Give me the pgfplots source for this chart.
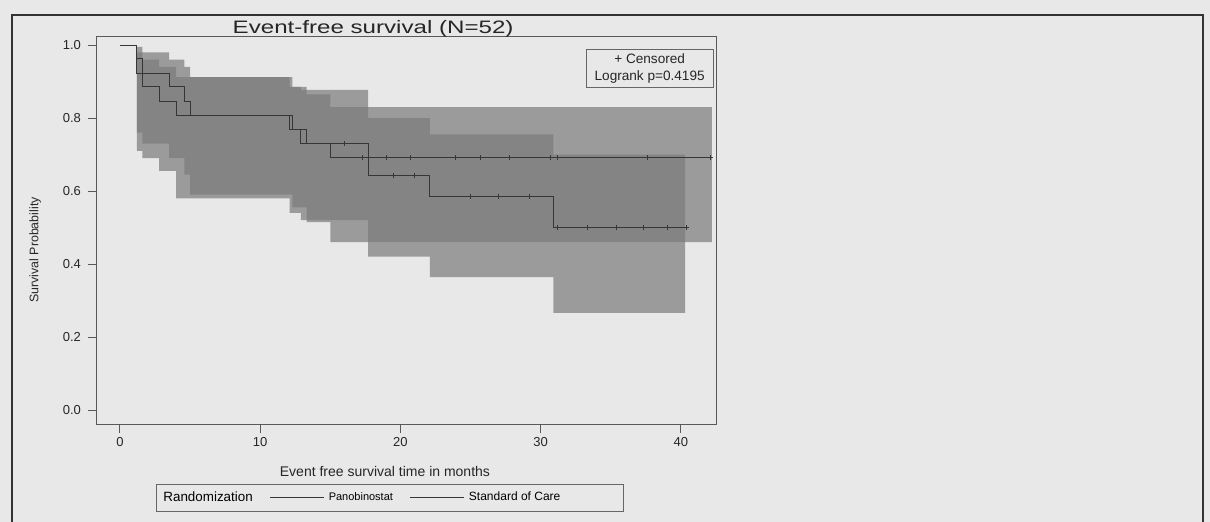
\documentclass[border=0pt]{standalone}
\usepackage{fontspec}
\setmainfont{Liberation Sans}
\newfontfamily\titlefont[FakeStretch=1.34]{Liberation Sans}
\usepackage{pgfplots}
\pgfplotsset{compat=1.18}
\definecolor{paper}{HTML}{E8E8E8}
\definecolor{band}{HTML}{7B7B7B}
\definecolor{curve}{HTML}{363636}
\begin{document}
\begin{tikzpicture}[x=1pt,y=1pt]
\fill[paper] (0,0) rectangle (605,261);
\draw[line width=1pt, black!80] (6,0) -- (6,253.5) -- (601.5,253.5) -- (601.5,0);
\begin{axis}[
  at={(48pt,48.5pt)}, anchor=south west,
  scale only axis, width=310pt, height=194pt,
  xmin=-1.71, xmax=42.5, ymin=-0.041, ymax=1.022,
  xtick={0,10,20,30,40}, ytick={0,0.2,0.4,0.6,0.8,1.0},
  tick pos=left, tick align=outside, major tick length=4pt,
  axis line style={draw=black!65, line width=0.5pt},
  every tick/.style={black!65, line width=0.5pt},
  /pgf/number format/assume math mode=true,
  yticklabel style={/pgf/number format/.cd, fixed, fixed zerofill, precision=1},
  xticklabel style={yshift=1.5pt},
  ticklabel style={font=\fontsize{6.5}{7}\selectfont, text=black!85},
  every axis title shift=0pt,
  title={Event-free survival (N=52)},
  title style={font=\titlefont\fontsize{9}{10}\selectfont, at={(axis description cs:0.447,1.022)}, anchor=center, text=black!85},
  xlabel={Event free survival time in months},
  xlabel style={font=\fontsize{7}{8}\selectfont, at={(axis description cs:0.466,-0.121)}, anchor=center, text=black!85},
  ylabel={Survival Probability},
  ylabel style={font=\fontsize{6.2}{7}\selectfont, at={(axis description cs:-0.098,0.451)}, anchor=center, text=black!85},
  legend columns=3,
  legend style={at={(axis description cs:0.474,-0.188)}, anchor=center, draw=black!60, fill=paper,
    font=\fontsize{6}{7}\selectfont, inner sep=1.5pt,
    /tikz/every even column/.append style={column sep=6.5pt}},
  legend cell align=left,
  legend image code/.code={\draw[#1] (0pt,0pt) -- (27pt,0pt);},
]
% confidence band, curve A
\addplot[fill=band, fill opacity=0.7, draw=none, forget plot] coordinates {
(1.2,0.995)(1.6,0.995)(1.6,0.98)(3.5,0.98)(3.5,0.96)(4.6,0.96)(4.6,0.94)(5.0,0.94)(5.0,0.912)(12.3,0.912)(12.3,0.885)(13.3,0.885)(13.3,0.865)(15.0,0.865)(15.0,0.83)(42.2,0.83)
(42.2,0.46)(15.0,0.46)(15.0,0.515)(13.3,0.515)(13.3,0.555)(12.3,0.555)(12.3,0.59)(5.0,0.59)(5.0,0.645)(4.6,0.645)(4.6,0.69)(3.5,0.69)(3.5,0.73)(1.6,0.73)(1.6,0.76)(1.2,0.76)(1.2,0.995)};
% confidence band, curve B
\addplot[fill=band, fill opacity=0.7, draw=none, forget plot] coordinates {
(1.2,0.98)(1.6,0.98)(1.6,0.96)(2.8,0.96)(2.8,0.94)(4.0,0.94)(4.0,0.912)(12.1,0.912)(12.1,0.885)(12.9,0.885)(12.9,0.877)(17.7,0.877)(17.7,0.80)(22.1,0.80)(22.1,0.755)(30.9,0.755)(30.9,0.70)(40.3,0.70)
(40.3,0.266)(30.9,0.266)(30.9,0.364)(22.1,0.364)(22.1,0.42)(17.7,0.42)(17.7,0.52)(12.9,0.52)(12.9,0.54)(12.1,0.54)(12.1,0.58)(4.0,0.58)(4.0,0.655)(2.8,0.655)(2.8,0.69)(1.6,0.69)(1.6,0.71)(1.2,0.71)(1.2,0.98)};
\addlegendimage{empty legend}
\addlegendentry{\fontsize{6.7}{7}\selectfont Randomization}
% curve A (Panobinostat)
\addplot[const plot, curve, line width=0.5pt] coordinates {
(0,1)(1.2,0.962)(1.6,0.923)(3.5,0.885)(4.6,0.846)(5.0,0.808)(12.3,0.769)(13.3,0.731)(15.0,0.692)(42.1,0.692)};
\addlegendentry{\fontsize{5.5}{7}\selectfont Panobinostat}
% curve B (Standard of Care)
\addplot[const plot, curve, line width=0.5pt] coordinates {
(0,1)(1.2,0.923)(1.6,0.885)(2.8,0.846)(4.0,0.808)(12.1,0.769)(12.9,0.731)(17.7,0.643)(22.1,0.585)(30.9,0.50)(40.4,0.50)};
\addlegendentry{Standard of Care\hspace*{28pt}}
% censored marks
\addplot[only marks, mark=+, mark size=1.3pt, curve, forget plot] coordinates {
(17.3,0.692)(19.0,0.692)(20.7,0.692)(23.9,0.692)(25.7,0.692)(27.8,0.692)(30.7,0.692)(31.2,0.692)(37.6,0.692)(42.1,0.692)};
\addplot[only marks, mark=+, mark size=1.3pt, curve, forget plot] coordinates {
(16.0,0.731)(19.5,0.643)(21.0,0.643)(25.0,0.585)(27.0,0.585)(29.2,0.585)(31.2,0.50)(33.3,0.50)(35.4,0.50)(37.3,0.50)(39.0,0.50)(40.4,0.50)};
\node[draw=black!60, fill=paper, font=\fontsize{6.8}{8.5}\selectfont, align=center, inner sep=2pt, minimum width=63.5pt, minimum height=16.5pt, text=black!85]
  at (rel axis cs:0.893,0.919) {+ Censored\\Logrank p=0.4195};
\end{axis}
\pgfresetboundingbox
\useasboundingbox (0,0) rectangle (605,261);
\end{tikzpicture}
\end{document}
